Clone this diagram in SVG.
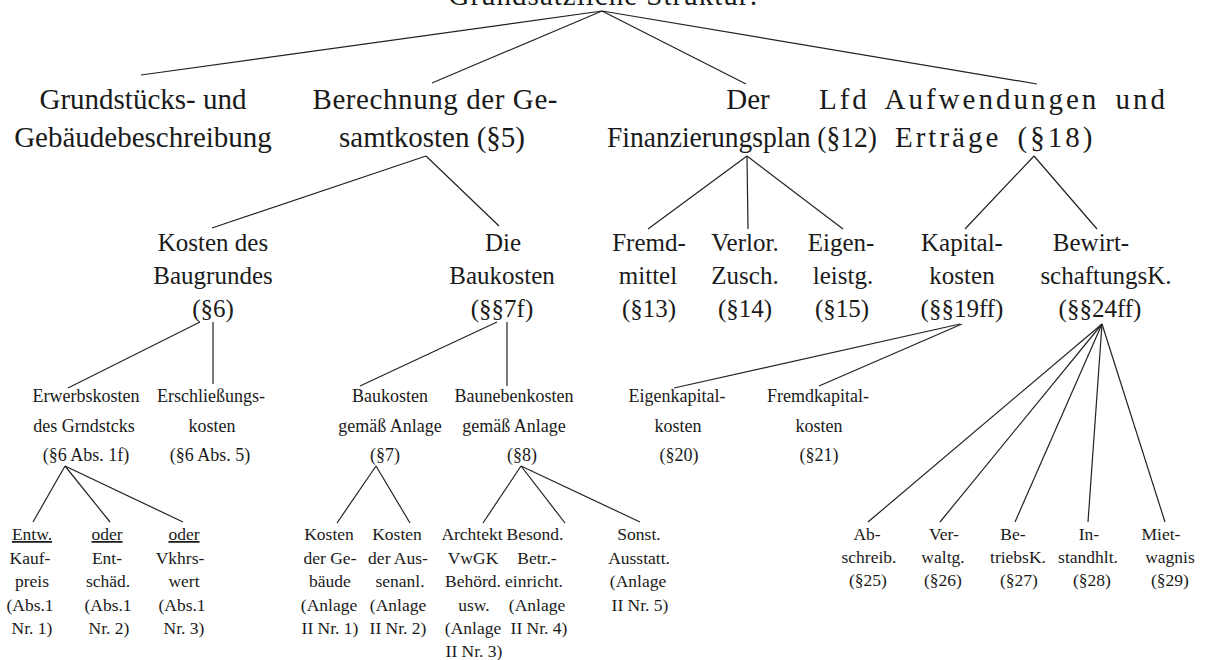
<svg xmlns="http://www.w3.org/2000/svg" width="1208" height="660" viewBox="0 0 1208 660">
<style>
text{font-family:"Liberation Serif","Times New Roman",serif;fill:#1a1a1a;text-anchor:middle}
.t1{font-size:29px}
.t2{font-size:25px}
.t3{font-size:18px}
.t4{font-size:17.5px}
.u{text-decoration:underline}
.w{text-anchor:start;letter-spacing:3px;word-spacing:6px}
.c line{stroke:#222;stroke-width:1.2}
</style>
<rect width="1208" height="660" fill="#fff"/>
<g class="c" id="connectors">
<line x1="602" y1="11" x2="141" y2="75"/>
<line x1="602" y1="11" x2="432" y2="83"/>
<line x1="602" y1="11" x2="746" y2="84"/>
<line x1="602" y1="11" x2="1037" y2="84"/>
<line x1="426" y1="156" x2="212" y2="228"/>
<line x1="426" y1="156" x2="499" y2="226"/>
<line x1="747" y1="156" x2="648" y2="229"/>
<line x1="747" y1="156" x2="748" y2="229"/>
<line x1="747" y1="156" x2="843" y2="229"/>
<line x1="1034" y1="156" x2="965" y2="229"/>
<line x1="1034" y1="156" x2="1097" y2="229"/>
<line x1="200" y1="322" x2="68" y2="388"/>
<line x1="213" y1="322" x2="213" y2="384"/>
<line x1="497" y1="322" x2="360" y2="386"/>
<line x1="507" y1="322" x2="507" y2="386"/>
<line x1="960" y1="324" x2="674" y2="388"/>
<line x1="962" y1="324" x2="819" y2="386"/>
<line x1="1102" y1="324" x2="868" y2="522"/>
<line x1="1102" y1="324" x2="940" y2="522"/>
<line x1="1102" y1="324" x2="1015" y2="522"/>
<line x1="1102" y1="324" x2="1088" y2="522"/>
<line x1="1102" y1="324" x2="1165" y2="522"/>
<line x1="65" y1="466" x2="33" y2="522"/>
<line x1="65" y1="466" x2="110" y2="522"/>
<line x1="65" y1="466" x2="183" y2="522"/>
<line x1="376" y1="466" x2="337" y2="523"/>
<line x1="376" y1="466" x2="410" y2="523"/>
<line x1="521" y1="466" x2="483" y2="523"/>
<line x1="521" y1="466" x2="565" y2="523"/>
<line x1="521" y1="466" x2="640" y2="522"/>
</g>
<g id="n-root"><text class="t1" x="603" y="5" textLength="309" lengthAdjust="spacing">Grundsätzliche Struktur:</text></g>
<g id="n-grund" class="t1"><text x="143" y="109">Grundstücks- und</text><text x="143" y="147">Gebäudebeschreibung</text></g>
<g id="n-gesamt" class="t1"><text x="435" y="109" textLength="245" lengthAdjust="spacing">Berechnung der Ge-</text><text x="432" y="147">samtkosten (§5)</text></g>
<g id="n-finplan" class="t1"><text x="748" y="109">Der</text><text x="742" y="147" textLength="270" lengthAdjust="spacingAndGlyphs">Finanzierungsplan (§12)</text></g>
<g id="n-lfd" class="t1"><text class="w" x="819" y="109">Lfd Aufwendungen und</text><text class="w" x="895" y="147">Erträge (§18)</text></g>
<g id="n-baugrund" class="t2"><text x="213" y="251">Kosten des</text><text x="213" y="284">Baugrundes</text><text x="213" y="317">(§6)</text></g>
<g id="n-baukosten" class="t2"><text x="503" y="251">Die</text><text x="502" y="284">Baukosten</text><text x="502" y="317">(§§7f)</text></g>
<g id="n-fremd" class="t2"><text x="649" y="251">Fremd-</text><text x="648" y="284">mittel</text><text x="649" y="317">(§13)</text></g>
<g id="n-verlor" class="t2"><text x="745" y="251">Verlor.</text><text x="745" y="284">Zusch.</text><text x="745" y="317">(§14)</text></g>
<g id="n-eigen" class="t2"><text x="841" y="251">Eigen-</text><text x="843" y="284">leistg.</text><text x="842" y="317">(§15)</text></g>
<g id="n-kapital" class="t2"><text x="962" y="251">Kapital-</text><text x="962" y="284">kosten</text><text x="962" y="317">(§§19ff)</text></g>
<g id="n-bewirt" class="t2"><text x="1091" y="251">Bewirt-</text><text x="1106" y="284">schaftungsK.</text><text x="1100" y="317">(§§24ff)</text></g>
<g id="n-erwerb" class="t3"><text x="86" y="402">Erwerbskosten</text><text x="84" y="432">des Grndstcks</text><text x="86" y="461">(§6 Abs. 1f)</text></g>
<g id="n-erschl" class="t3"><text x="211" y="402">Erschließungs-</text><text x="212" y="432">kosten</text><text x="210" y="461">(§6 Abs. 5)</text></g>
<g id="n-bauanl" class="t3"><text x="390" y="402">Baukosten</text><text x="390" y="432">gemäß Anlage</text><text x="385" y="461">(§7)</text></g>
<g id="n-baunebenk" class="t3"><text x="514" y="402">Baunebenkosten</text><text x="514" y="432">gemäß Anlage</text><text x="522" y="461">(§8)</text></g>
<g id="n-ek" class="t3"><text x="677" y="402">Eigenkapital-</text><text x="678" y="432">kosten</text><text x="679" y="461">(§20)</text></g>
<g id="n-fk" class="t3"><text x="818" y="402">Fremdkapital-</text><text x="819" y="432">kosten</text><text x="819" y="461">(§21)</text></g>
<g id="n-kauf" class="t4"><text class="u" x="32" y="540">Entw.</text><text x="30" y="563.5">Kauf-</text><text x="32" y="587">preis</text><text x="30" y="610.5">(Abs.1</text><text x="32" y="634">Nr. 1)</text></g>
<g id="n-entsch" class="t4"><text class="u" x="107" y="540">oder</text><text x="107" y="563.5">Ent-</text><text x="108" y="587">schäd.</text><text x="108" y="610.5">(Abs.1</text><text x="109" y="634">Nr. 2)</text></g>
<g id="n-vkw" class="t4"><text class="u" x="184" y="540">oder</text><text x="180" y="563.5">Vkhrs-</text><text x="184" y="587">wert</text><text x="182" y="610.5">(Abs.1</text><text x="184" y="634">Nr. 3)</text></g>
<g id="n-geb" class="t4"><text x="329" y="540">Kosten</text><text x="330" y="563.5">der Ge-</text><text x="330" y="587">bäude</text><text x="329" y="610.5">(Anlage</text><text x="330" y="634">II Nr. 1)</text></g>
<g id="n-aussen" class="t4"><text x="397" y="540">Kosten</text><text x="398" y="563.5">der Aus-</text><text x="400" y="587">senanl.</text><text x="398" y="610.5">(Anlage</text><text x="398" y="634">II Nr. 2)</text></g>
<g id="n-arch" class="t4"><text x="472" y="540">Archtekt</text><text x="473" y="563.5">VwGK</text><text x="473" y="587">Behörd.</text><text x="474" y="610.5">usw.</text><text x="473" y="634">(Anlage</text><text x="474" y="657">II Nr. 3)</text></g>
<g id="n-betr" class="t4"><text x="535" y="540">Besond.</text><text x="537" y="563.5">Betr.-</text><text x="534" y="587">einricht.</text><text x="537" y="610.5">(Anlage</text><text x="539" y="634">II Nr. 4)</text></g>
<g id="n-ausst" class="t4"><text x="639" y="540">Sonst.</text><text x="639" y="563.5">Ausstatt.</text><text x="638" y="587">(Anlage</text><text x="640" y="610.5">II Nr. 5)</text></g>
<g id="n-abschr" class="t4"><text x="867" y="540">Ab-</text><text x="869" y="563">schreib.</text><text x="868" y="586">(§25)</text></g>
<g id="n-verw" class="t4"><text x="944" y="540">Ver-</text><text x="943" y="563">waltg.</text><text x="943" y="586">(§26)</text></g>
<g id="n-betrk" class="t4"><text x="1013" y="540">Be-</text><text x="1018" y="563">triebsK.</text><text x="1019" y="586">(§27)</text></g>
<g id="n-instand" class="t4"><text x="1089" y="540">In-</text><text x="1088" y="563">standhlt.</text><text x="1092" y="586">(§28)</text></g>
<g id="n-miet" class="t4"><text x="1161" y="540">Miet-</text><text x="1170" y="563">wagnis</text><text x="1170" y="586">(§29)</text></g>
</svg>
